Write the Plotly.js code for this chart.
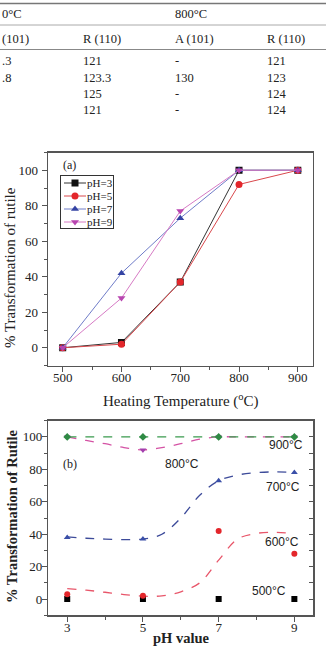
<!DOCTYPE html>
<html>
<head>
<meta charset="utf-8">
<script src="https://cdn.plot.ly/plotly-3.0.1.min.js"></script>
<style>
  html, body { margin: 0; padding: 0; background: #fff; }
  #chart { width: 326px; height: 646px; }
</style>
</head>
<body>
<div id="chart"></div>
<script>
// ---------- Table fragment (top) ----------
const tableGroupHeaders = ["0°C", "", "800°C", ""];
const tableSubHeaders = ["(101)", "R (110)", "A (101)", "R (110)"];
const tableRows = [
  [".3", "121", "-", "121"],
  [".8", "123.3", "130", "123"],
  ["", "125", "-", "124"],
  ["", "121", "-", "124"]
];

// ---------- Chart (a) ----------
const heatingTemps = [500, 600, 700, 800, 900];
const seriesNamesA = ["pH=3", "pH=5", "pH=7", "pH=9"];
const rutilePH3 = [0, 3, 37, 100, 100];
const rutilePH5 = [0, 2, 37, 92, 100];
const rutilePH7 = [0, 42, 73, 100, 100];
const rutilePH9 = [0, 28, 77, 100, 100];

// ---------- Chart (b) ----------
const pHValues = [3, 5, 7, 9];
const rutile500 = [0, 0, 0, 0];
const rutile600 = [3, 2, 42, 28];
const rutile700 = [38, 37, 73, 78];
const rutile800 = [100, 92, 100, 100];
const rutile900 = [100, 100, 100, 100];
// dashed guide curves
const curvePH = [3, 3.5, 4, 4.5, 5, 5.5, 6, 6.5, 7, 7.5, 8, 8.5, 9];
const curve600 = [6.5, 5.5, 4.2, 2.8, 1.8, 2, 4.5, 10, 24, 37, 40.5, 41.2, 40.4];
const curve700 = [38.3, 37.5, 37, 36.7, 37, 40, 50, 64, 73, 76.5, 78, 78.4, 78];
const curve800 = [100, 97.8, 95.8, 93.4, 92, 93.4, 95.8, 98.6, 100, 100, 100, 100, 100];
const curve900 = [100, 100, 100, 100, 100, 100, 100, 100, 100, 100, 100, 100, 100];
const tempLabels = ["900°C", "800°C", "700°C", "600°C", "500°C"];
const tempLabelPH = [8.78, 6.02, 8.7, 8.67, 8.33];
const tempLabelY = [94.8, 83, 69, 35, 5];

// ---------- helpers ----------
const W = 326, H = 646;
const px = v => v / W;
const py = v => 1 - v / H;
const SERIF = "Liberation Serif, Times New Roman, serif";
const SANS = "Liberation Sans, Arial, sans-serif";
const AXC = "#555";
const TXT = "#222";

const traces = [];
const colA = ["#111111", "#e3262b", "#3443a3", "#b845b0"];
const lineA = ["#333333", "#d9484c", "#6f7cc8", "#d67ac4"];
const symA = ["square", "circle", "triangle-up", "triangle-down"];
const dataA = [rutilePH3, rutilePH5, rutilePH7, rutilePH9];
dataA.forEach((ys, i) => {
  traces.push({
    x: heatingTemps, y: ys, name: seriesNamesA[i], type: "scatter", mode: "lines+markers",
    xaxis: "x", yaxis: "y",
    line: { color: lineA[i], width: 1 },
    marker: { color: colA[i], symbol: symA[i], size: 7 }
  });
});

// chart (b) curves
const curves = [
  [curve600, "#e8566a"], [curve700, "#3d4b9a"], [curve800, "#d452a4"], [curve900, "#3a9a4e"]
];
curves.forEach(([ys, c]) => {
  traces.push({
    x: curvePH, y: ys, type: "scatter", mode: "lines", showlegend: false,
    xaxis: "x2", yaxis: "y2",
    line: { color: c, width: 1.3, dash: "dash", shape: "spline", smoothing: 1 },
    hoverinfo: "skip"
  });
});
const markersB = [
  [rutile500, "#000000", "square"],
  [rutile600, "#e3262b", "circle"],
  [rutile700, "#3a4fa8", "triangle-up"],
  [rutile800, "#a23fae", "triangle-down"],
  [rutile900, "#2f8a44", "diamond"]
];
markersB.forEach(([ys, c, s]) => {
  traces.push({
    x: pHValues, y: ys, type: "scatter", mode: "markers", showlegend: false,
    xaxis: "x2", yaxis: "y2",
    marker: { color: c, symbol: s, size: 6 }
  });
});
// trace on the overlay axis giving the inward ticks on the right of (b)
traces.push({ x: pHValues, y: rutile900, xaxis: "x2", yaxis: "y3", showlegend: false, type: "scatter", mode: "none", hoverinfo: "skip" });

// ---------- annotations ----------
const ann = [];
const colX = [0, 81, 173, 265];
const tFont = { family: SERIF, size: 12.5, color: TXT };
function paperText(text, x, y, font, extra) {
  ann.push(Object.assign({ text: text, x: px(x), y: py(y), xref: "paper", yref: "paper",
    xanchor: "left", yanchor: "middle", showarrow: false, font: font }, extra || {}));
}
tableGroupHeaders.forEach((t, i) => { if (t) paperText(t, colX[i], 14, tFont); });
tableSubHeaders.forEach((t, i) => paperText(t, colX[i], 38.5, tFont));
const rowY = [61, 77.5, 94, 110];
tableRows.forEach((row, r) => {
  row.forEach((t, i) => { if (t) paperText(t, colX[i], rowY[r], tFont); });
});
paperText("(a)", 61, 165, { family: SERIF, size: 12, color: TXT });
paperText("(b)", 61, 464, { family: SERIF, size: 12, color: TXT });

// axis titles
paperText("Heating Temperature (<sup>o</sup>C)", 180.5, 400, { family: SERIF, size: 15, color: TXT }, { xanchor: "center" });
paperText("% Transformation of rutile", 10, 268, { family: SERIF, size: 15, color: TXT }, { xanchor: "center", textangle: -90 });
paperText("% Transformation of Rutile", 12, 516, { family: SERIF, size: 14.5, color: TXT, weight: "bold" }, { xanchor: "center", textangle: -90 });
paperText("pH value", 181, 638, { family: SERIF, size: 14.5, color: TXT, weight: "bold" }, { xanchor: "center" });

tempLabels.forEach((t, i) => {
  ann.push({ text: t, x: tempLabelPH[i], y: tempLabelY[i], xref: "x2", yref: "y2", xanchor: "center", yanchor: "middle", showarrow: false, font: { family: SANS, size: 12, color: TXT } });
});

const shapes = [
  { type: "line", xref: "paper", yref: "paper", x0: 0, x1: 1, y0: py(3.5), y1: py(3.5), line: { color: "#777", width: 1.5 } },
  { type: "line", xref: "paper", yref: "paper", x0: 0, x1: 1, y0: py(25), y1: py(25), line: { color: "#aaa", width: 1 } },
  { type: "line", xref: "paper", yref: "paper", x0: 0, x1: 1, y0: py(49.5), y1: py(49.5), line: { color: "#888", width: 1 } }
];

const tickFont = { family: SERIF, size: 13, color: TXT };
const baseAxis = {
  showline: true, linecolor: AXC, linewidth: 1.5, mirror: true,
  ticks: "outside", ticklen: 5, tickcolor: AXC, tickwidth: 1,
  showgrid: false, zeroline: false, automargin: false, tickfont: tickFont
};

const layout = {
  width: W, height: H,
  margin: { l: 0, r: 0, t: 0, b: 0 },
  paper_bgcolor: "#fff", plot_bgcolor: "#fff",
  showlegend: true,
  legend: {
    x: px(60), y: py(175), xanchor: "left", yanchor: "top",
    bordercolor: "#333", borderwidth: 1, bgcolor: "#fff",
    font: { family: SERIF, size: 11, color: TXT },
    itemwidth: 30, tracegroupgap: 0
  },
  xaxis: Object.assign({}, baseAxis, {
    domain: [px(48), px(312.5)], anchor: "y", range: [475, 925],
    tickvals: heatingTemps, ticklabelstandoff: -6,
    minor: { ticks: "outside", ticklen: 3, dtick: 50, tickcolor: AXC }
  }),
  yaxis: Object.assign({}, baseAxis, {
    domain: [py(365.5), py(152.5)], anchor: "x", range: [-10, 110],
    dtick: 20, tick0: 0, ticklabelstandoff: 1,
    minor: { ticks: "outside", ticklen: 3, dtick: 10, tickcolor: AXC }
  }),
  xaxis2: Object.assign({}, baseAxis, {
    domain: [px(48.3), px(313.3)], anchor: "y2", range: [2.5, 9.5],
    tickvals: pHValues, ticklabelstandoff: -5,
    minor: { ticks: "outside", ticklen: 3, dtick: 1, tick0: 0, tickcolor: AXC }
  }),
  yaxis2: Object.assign({}, baseAxis, {
    domain: [py(615.3), py(420.7)], anchor: "x2", range: [-10, 110],
    dtick: 20, tick0: 0, ticklabelstandoff: -3,
    minor: { ticks: "outside", ticklen: 3, dtick: 10, tickcolor: AXC }
  }),
  yaxis3: {
    overlaying: "y2", side: "right", anchor: "x2", range: [-10, 110],
    showline: false, showgrid: false, zeroline: false,
    ticks: "inside", ticklen: 4, tickcolor: AXC, dtick: 10, tick0: 0,
    showticklabels: false, automargin: false
  },
  annotations: ann,
  shapes: shapes
};

Plotly.newPlot("chart", traces, layout, { displayModeBar: false, staticPlot: true }).then(() => {
  // compact the legend to the reference's row spacing and swatch size
  const items = document.querySelectorAll(".legend .traces");
  items.forEach((g, i) => {
    g.setAttribute("transform", "translate(1," + (8 + i * 13) + ")");
    g.querySelectorAll("path.js-line").forEach(p => p.setAttribute("d", "M3,0h22"));
    g.querySelectorAll(".legendpoints path").forEach(p => {
      p.setAttribute("transform", "translate(14,0)");
    });
    g.querySelectorAll("text.legendtext").forEach(t => t.setAttribute("x", 26));
  });
  const bg = document.querySelector(".legend .bg");
  if (bg) { bg.setAttribute("height", 53); bg.setAttribute("width", 53); }
});
</script>
</body>
</html>
